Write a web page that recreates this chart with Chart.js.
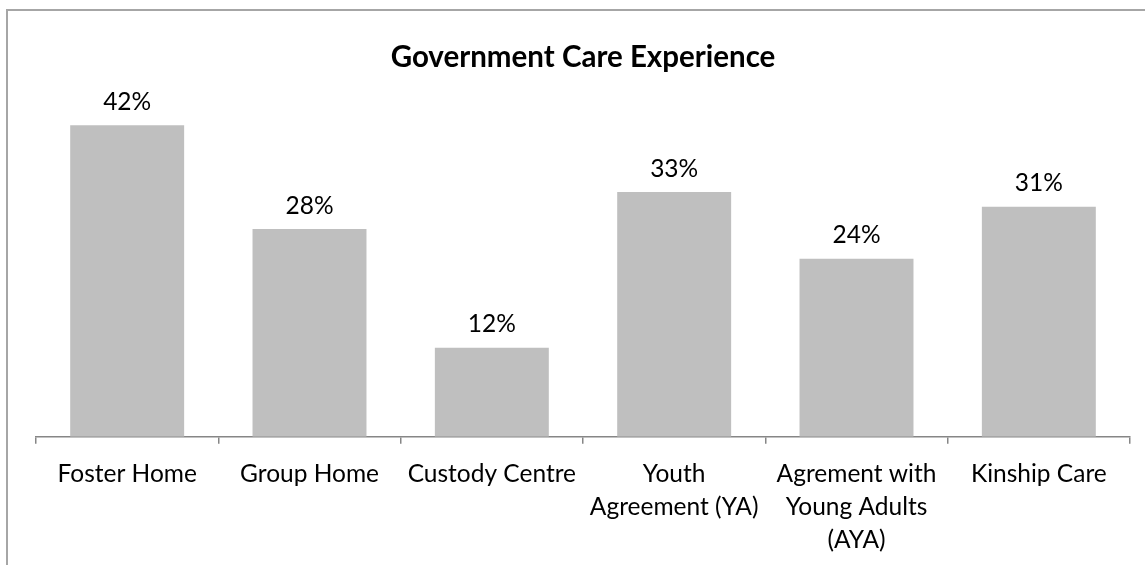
<!DOCTYPE html>
<html>
<head>
<meta charset="utf-8">
<script src="https://cdn.jsdelivr.net/npm/chart.js@4.4.1/dist/chart.umd.min.js"></script>
<style>
  html, body { margin: 0; padding: 0; background: #fff; }
  #wrap { position: relative; width: 1145px; height: 565px; overflow: hidden; }
  #frame {
    position: absolute; left: 6px; top: 9px; width: 1200px; height: 600px;
    border-left: 2px solid #a6a6a6; border-top: 2px solid #a6a6a6;
  }
  canvas { position: absolute; left: 0; top: 0; }
</style>
</head>
<body>
<div id="wrap">
  <div id="frame"></div>
  <canvas id="careChart" width="1145" height="570"></canvas>
</div>
<script>
const categories = [
  'Foster Home',
  'Group Home',
  'Custody Centre',
  ['Youth', 'Agreement (YA)'],
  ['Agrement with', 'Young Adults', '(AYA)'],
  'Kinship Care'
];
const percentages = [42, 28, 12, 33, 24, 31];
const yMax = 45;

const FONT = 'Lato, "Open Sans", sans-serif';

// value labels above each bar
const barValues = {
  id: 'barValues',
  afterDatasetsDraw(chart) {
    const { ctx } = chart;
    const meta = chart.getDatasetMeta(0);
    ctx.save();
    ctx.font = '24.5px ' + FONT;
    ctx.fillStyle = '#000';
    ctx.textAlign = 'center';
    ctx.textBaseline = 'bottom';
    meta.data.forEach((bar, i) => {
      ctx.fillText(percentages[i] + '%', bar.x, bar.y - 11);
    });
    ctx.restore();
  }
};

new Chart(document.getElementById('careChart'), {
  type: 'bar',
  data: {
    labels: categories,
    datasets: [{
      data: percentages,
      backgroundColor: '#bfbfbf',
      barPercentage: 0.625,
      categoryPercentage: 1
    }]
  },
  options: {
    responsive: false,
    animation: false,
    layout: { padding: { left: 36, right: 15, top: 0, bottom: 0 } },
    plugins: {
      legend: { display: false },
      tooltip: { enabled: false },
      title: {
        display: true,
        text: 'Government Care Experience',
        color: '#000',
        font: { family: FONT, size: 29.5, weight: 'bold' },
        padding: { top: 39.3, bottom: 28.3 }
      }
    },
    scales: {
      x: {
        grid: { drawOnChartArea: false, drawTicks: true, tickLength: 7, color: '#868686', lineWidth: 1.5 },
        border: { color: '#868686', width: 1.5 },
        ticks: { color: '#000', font: { family: FONT, size: 24.5, lineHeight: 1.35 }, padding: 13.5, maxRotation: 0, autoSkip: false }
      },
      y: {
        display: false,
        min: 0,
        max: yMax
      }
    }
  },
  plugins: [barValues]
});
</script>
</body>
</html>
